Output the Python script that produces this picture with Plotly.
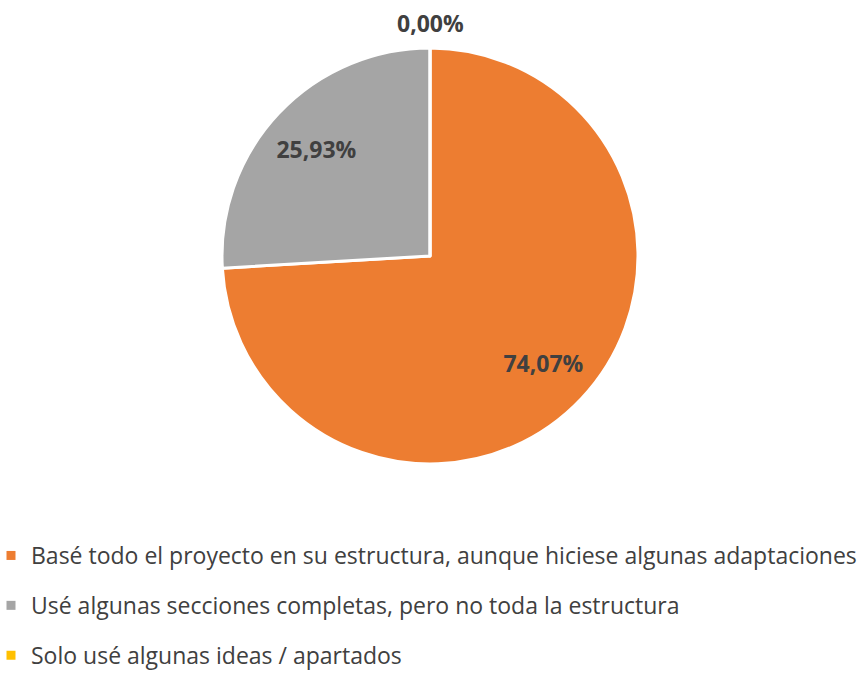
import plotly.graph_objects as go

labels = [
    "Basé todo el proyecto en su estructura, aunque hiciese algunas adaptaciones",
    "Usé algunas secciones completas, pero no toda la estructura",
    "Solo usé algunas ideas / apartados",
]
values = [74.07, 25.93, 0.00]
colors = ["#ED7D31", "#A5A5A5", "#FFC000"]

W, H = 866, 673
cx, cy, r = 430, 256, 208
dom = dict(x=[(cx - r) / W, (cx + r) / W], y=[1 - (cy + r) / H, 1 - (cy - r) / H])
label_font = dict(family="Open Sans", size=23, color="#404040", weight="bold")

fig = go.Figure()
# solid pie (slices)
fig.add_trace(
    go.Pie(
        labels=labels, values=values, sort=False, direction="clockwise", rotation=0,
        marker=dict(colors=colors, line=dict(color="white", width=3)),
        textinfo="none", automargin=False, hoverinfo="skip", showlegend=False,
        domain=dom,
    )
)
# transparent ring that carries the data labels, placed at ~3/4 of the radius
fig.add_trace(
    go.Pie(
        labels=labels, values=values, sort=False, direction="clockwise", rotation=0,
        hole=0.5,
        marker=dict(colors=["rgba(0,0,0,0)"] * len(values), line=dict(width=0)),
        texttemplate="%{value:.2f}%",
        textposition=["inside" if v > 0 else "none" for v in values],
        textfont=label_font,
        insidetextorientation="horizontal",
        automargin=False, hoverinfo="skip", showlegend=False,
        domain=dom,
    )
)

# label for the empty slice, at the top of the pie
for lab, v in zip(labels, values):
    if v == 0:
        fig.add_annotation(
            text=f"{v:.2f}%".replace(".", ","), xref="paper", yref="paper",
            x=(dom["x"][0] + dom["x"][1]) / 2, y=dom["y"][1], yanchor="bottom",
            yshift=7, showarrow=False, font=label_font,
        )

# legend entries (one per pie category, spaced like the original)
for lab, col in zip(labels, colors):
    fig.add_trace(
        go.Scatter(
            x=[None], y=[None], mode="markers", name=lab, legendgroup=lab,
            marker=dict(symbol="square", size=9, color=col), hoverinfo="skip",
        )
    )

fig.update_layout(
    width=W, height=H,
    margin=dict(l=0, r=0, t=0, b=0, autoexpand=False),
    paper_bgcolor="white", plot_bgcolor="white",
    separators=",.",
    showlegend=True,
    xaxis=dict(visible=False), yaxis=dict(visible=False),
    legend=dict(
        x=-9 / W, xanchor="left", y=1 - 534 / H, yanchor="top",
        tracegroupgap=17,
        font=dict(family="Open Sans", size=23, color="#404040"),
        itemwidth=30, bgcolor="rgba(0,0,0,0)",
    ),
)

fig.write_html(
    "out.html",
    config={"displayModeBar": False},
    post_script="document.body.style.margin='0';",
)
